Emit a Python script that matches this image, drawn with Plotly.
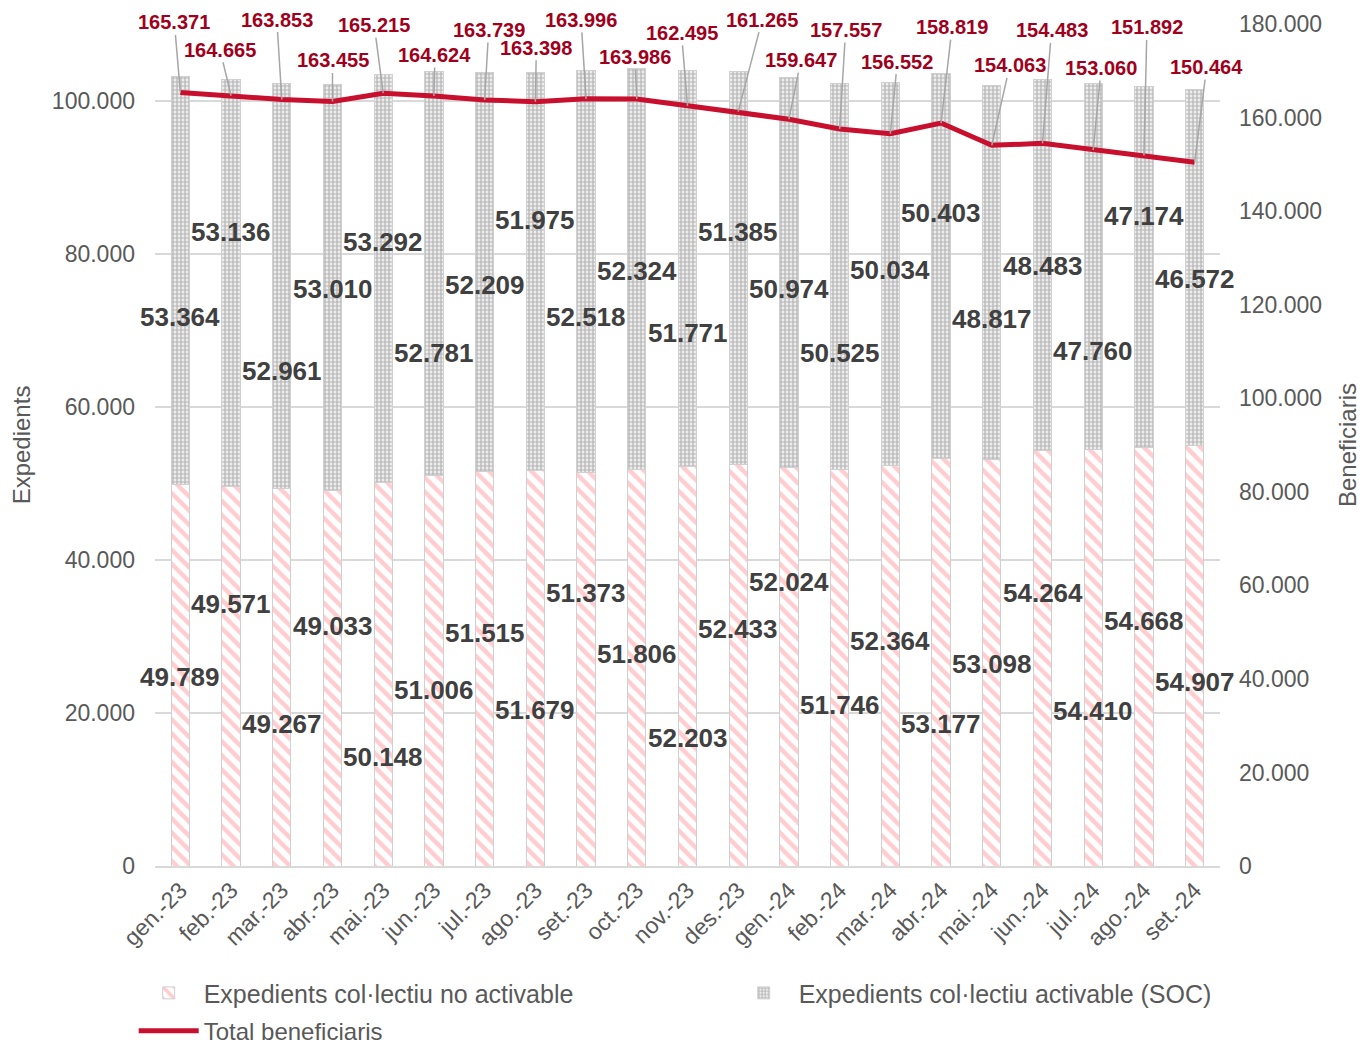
import plotly.graph_objects as go

months = ["gen.-23", "feb.-23", "mar.-23", "abr.-23", "mai.-23", "jun.-23", "jul.-23",
          "ago.-23", "set.-23", "oct.-23", "nov.-23", "des.-23", "gen.-24", "feb.-24",
          "mar.-24", "abr.-24", "mai.-24", "jun.-24", "jul.-24", "ago.-24", "set.-24"]

no_activable = [49789, 49571, 49267, 49033, 50148, 51006, 51515, 51679, 51373, 51806,
                52203, 52433, 52024, 51746, 52364, 53177, 53098, 54264, 54410, 54668, 54907]

activable_soc = [53364, 53136, 52961, 53010, 53292, 52781, 52209, 51975, 52518, 52324,
                 51771, 51385, 50974, 50525, 50034, 50403, 48817, 48483, 47760, 47174, 46572]

total_benef = [165371, 164665, 163853, 163455, 165215, 164624, 163739, 163398, 163996, 163986,
               162495, 161265, 159647, 157557, 156552, 158819, 154063, 154483, 153060, 151892, 150464]

# label placement (left-axis units) mimicking the staggered labels of the original
lower_label_y = [24710, 34250, 18560, 31370, 14250, 23010, 30460, 20390, 35690, 27710,
                 16730, 30980, 37120, 21050, 29410, 18560, 26410, 35690, 20260, 32030, 24050]
upper_label_y = [71760, 82880, 64710, 75420, 81570, 67060, 75950, 84440, 71760, 77780,
                 69670, 82880, 75420, 67060, 77910, 85360, 71500, 78430, 67320, 84970, 76730]
# leader-line offsets (pixels) for line labels
line_ax = [-6, -11, -5, 0, -9, 1, 4, 1, -5, -2, -6, 24, 12, 6, 7, 11, 18, 9, 8, 3, 12]
line_ay = [-70, -46, -80, -41, -68, -41, -70, -54, -79, -42, -73, -92, -59, -99, -72, -96, -80, -113, -82, -128, -95]


def fmt(v):
    return f"{v:,}".replace(",", ".")


FONT = "Liberation Sans, Arial, sans-serif"
GRAY = "#595959"

fig = go.Figure()
fig.add_trace(go.Bar(
    x=months, y=no_activable, name="Expedients col·lectiu no activable",
    marker=dict(color="white", line=dict(color="#D0D0D0", width=1),
                pattern=dict(shape="\\", fgcolor="#FF9AA2", bgcolor="white",
                             size=10, solidity=0.45, fillmode="overlay")),
    yaxis="y", legend="legend"))
fig.add_trace(go.Bar(
    x=months, y=activable_soc, name="Expedients col·lectiu activable (SOC)",
    marker=dict(color="white", line=dict(color="#D0D0D0", width=1),
                pattern=dict(shape=".", fgcolor="#808080", bgcolor="white",
                             size=4, solidity=0.7, fillmode="overlay")),
    yaxis="y", legend="legend"))
fig.add_trace(go.Scatter(
    x=months, y=total_benef, name="Total beneficiaris", mode="lines",
    line=dict(color="#C8102E", width=5), yaxis="y2", legend="legend2"))

ann = []
for m, v, ly in zip(months, no_activable, lower_label_y):
    ann.append(dict(x=m, y=ly, xref="x", yref="y", text=fmt(v), showarrow=False,
                    font=dict(family=FONT, size=26, color="#404040", weight="bold")))
for m, v, ly in zip(months, activable_soc, upper_label_y):
    ann.append(dict(x=m, y=ly, xref="x", yref="y", text=fmt(v), showarrow=False,
                    font=dict(family=FONT, size=26, color="#404040", weight="bold")))
for m, v, ax, ay in zip(months, total_benef, line_ax, line_ay):
    ann.append(dict(x=m, y=v, xref="x", yref="y2", text=fmt(v), showarrow=True,
                    arrowhead=0, arrowwidth=1.5, arrowcolor="#A6A6A6", ax=ax, ay=ay,
                    standoff=0, startstandoff=0,
                    font=dict(family=FONT, size=20, color="#A0001C", weight="bold")))

legfont = dict(family=FONT, size=25, color=GRAY)
fig.update_layout(
    width=1361, height=1039,
    margin=dict(l=147, r=149, t=16, b=181, autoexpand=False),
    plot_bgcolor="white", paper_bgcolor="white",
    separators=",.",
    barmode="stack", bargap=0.64,
    font=dict(family=FONT, size=22, color=GRAY),
    xaxis=dict(tickangle=-45, tickfont=dict(size=23, color=GRAY), showgrid=False,
               showline=True, linecolor="#D9D9D9", linewidth=1.5, ticks="",
               automargin=False, range=[-0.5, len(months) - 0.5], autorange=False),
    yaxis=dict(range=[0, 110000], tickvals=[0, 20000, 40000, 60000, 80000, 100000],
               tickformat=",d", showgrid=True, gridcolor="#D9D9D9", gridwidth=1.5,
               zeroline=False, tickfont=dict(size=23, color=GRAY), automargin=False,
               ticklabelstandoff=19,
               title=dict(text="Expedients", font=dict(size=24, color=GRAY), standoff=14)),
    yaxis2=dict(range=[0, 180000], overlaying="y", side="right",
                tickvals=[0, 20000, 40000, 60000, 80000, 100000, 120000, 140000, 160000, 180000],
                tickformat=",d", showgrid=False, zeroline=False, automargin=False,
                tickfont=dict(size=23, color=GRAY), ticklabelstandoff=18,
                title=dict(text="Beneficiaris", font=dict(size=24, color=GRAY), standoff=18)),
    legend=dict(orientation="h", x=-0.02, y=-0.151, xanchor="left", yanchor="middle",
                font=legfont, itemwidth=60, traceorder="normal",
                entrywidth=520, entrywidthmode="pixels"),
    legend2=dict(orientation="h", x=-0.02, y=-0.196, xanchor="left", yanchor="middle",
                 font=dict(family=FONT, size=24, color=GRAY), itemwidth=60),
    annotations=ann,
)

fig.write_html("out.html")
